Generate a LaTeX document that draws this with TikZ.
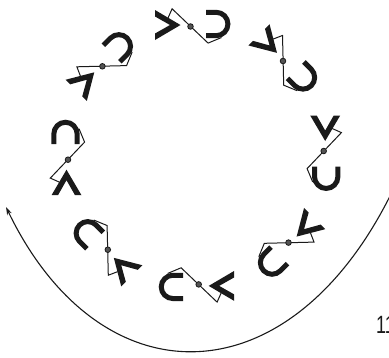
\documentclass[tikz,border=0pt]{standalone}
\usepackage{fontspec}
\newfontfamily\numfont{Liberation Sans}
\usetikzlibrary{arrows.meta}
\definecolor{ink}{HTML}{1A1A1A}
\begin{document}
\begin{tikzpicture}[x=1pt,y=-1pt,
  chevronfill/.style={fill=ink},
  horseshoe/.style={draw=ink, line width=5pt, line cap=butt, line join=miter},
  linkline/.style={draw=ink, line width=1pt, line join=miter},
  dotmark/.style={circle, fill=ink!75, draw=ink, line width=0.8pt, inner sep=0pt, minimum size=5.6pt},
  curveline/.style={draw=ink, line width=1.1pt, -{Stealth[length=8pt,width=5pt]}}]
\useasboundingbox (0,0) rectangle (389,357);
\newcommand\molecule[4]{%
  \begin{scope}[shift={(#2,#3)},rotate=#4]
    \fill[chevronfill] (-35.5,-16.5) -- (-10,-1.5) -- (-35.5,13.5) -- (-35.5,7)
       -- (-20.5,-1.5) -- (-35.5,-10) -- cycle;
    \draw[horseshoe] (15.5,-14.15) -- (25.8,-14.15)
       arc[start angle=90, end angle=-90, radius=11.65pt] -- (15.5,9.15);
    \draw[linkline] (-22.5,-8.5) -- (-18.4,-17.7) -- (17.6,16.6) -- (31,11);
    \node[dotmark] (#1) at (0,0) {};
  \end{scope}}
\molecule{m1}{190.5}{26.5}{0}
\molecule{m2}{283}{61}{-45}
\molecule{m3}{323.7}{151}{-90}
\molecule{m4}{288.5}{242.6}{-135}
\molecule{m5}{198.7}{284.4}{-180}
\molecule{m6}{107.8}{249.7}{-225}
\molecule{m7}{68}{159.7}{-270}
\molecule{m8}{102.4}{66.3}{-315}
\coordinate (curveend) at (393,190);
\coordinate (arrowtip) at (6,207);
\draw[curveline] (curveend) .. controls (290,402) and (100,402) .. (arrowtip);
\node[anchor=base west, inner sep=0pt, text=ink] (pagenum) at (376,333)
  {\numfont\scalebox{0.72}[1]{\fontsize{25}{25}\selectfont 11}};
\end{tikzpicture}
\end{document}
